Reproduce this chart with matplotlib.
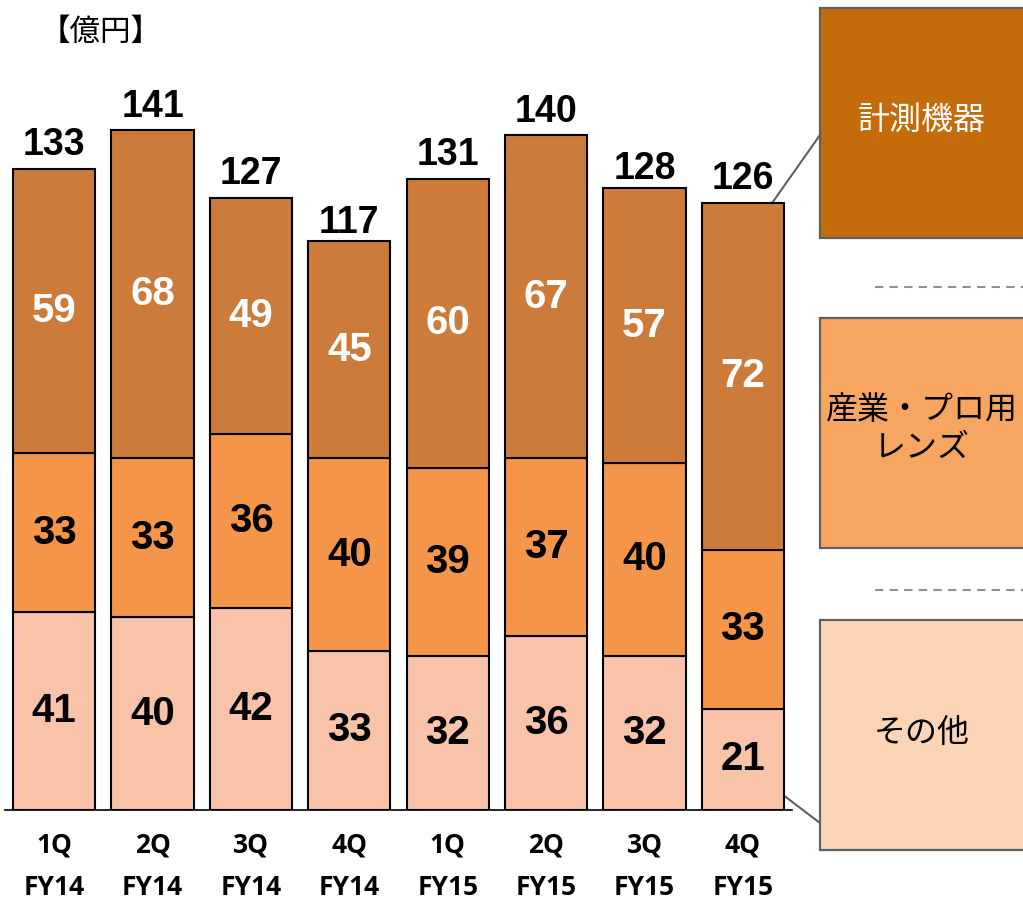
import matplotlib
matplotlib.use("Agg")
from matplotlib import pyplot as plt
from matplotlib.patches import Rectangle, ConnectionPatch

plt.rcParams["font.family"] = ["Noto Sans CJK JP", "DejaVu Sans"]

quarters = ["1Q", "2Q", "3Q", "4Q", "1Q", "2Q", "3Q", "4Q"]
years = ["FY14", "FY14", "FY14", "FY14", "FY15", "FY15", "FY15", "FY15"]
other = [41, 40, 42, 33, 32, 36, 32, 21]
lens = [33, 33, 36, 40, 39, 37, 40, 33]
measure = [59, 68, 49, 45, 60, 67, 57, 72]
totals = [133, 141, 127, 117, 131, 140, 128, 126]

seg_colors = ["#F8C3A9", "#F4954A", "#CD7B3A"]
box_colors = ["#FBD5B5", "#F7A662", "#C46C0C"]
seg_text = ["black", "black", "white"]

W, H = 1023, 901
fig = plt.figure(figsize=(W / 100, H / 100), dpi=100)

# overlay in pixel coordinates for the legend boxes
ov = fig.add_axes([0, 0, 1, 1], zorder=0)
ov.set_xlim(0, W)
ov.set_ylim(H, 0)
ov.axis("off")

ax = fig.add_axes([5 / W, (H - 810) / H, 787 / W, 160 * 4.82 / H], zorder=1)
ax.patch.set_visible(False)

x = list(range(len(quarters)))
width = 0.835
bottom = [0] * len(x)
for vals, col, tcol in zip([other, lens, measure], seg_colors, seg_text):
    ax.bar(x, vals, width, bottom=bottom, color=col, edgecolor="black", linewidth=1.5)
    for i, v in enumerate(vals):
        ax.text(x[i], bottom[i] + v / 2, str(v), ha="center", va="center",
                fontsize=29, fontweight="bold", family="Liberation Sans", color=tcol)
    bottom = [b + v for b, v in zip(bottom, vals)]

for i, t in enumerate(totals):
    ax.annotate(str(t), (x[i], t), xytext=(0, 4), textcoords="offset points",
                ha="center", va="bottom", fontsize=27, fontweight="bold",
                family="Liberation Sans")

ax.set_xlim(-0.5, 7.5)
ax.set_ylim(0, 160)
for s in ["top", "right", "left"]:
    ax.spines[s].set_visible(False)
ax.spines["bottom"].set_linewidth(1.2)
ax.set_xticks([])
ax.set_yticks([])

for i in x:
    ax.text(x[i], -0.046, quarters[i], transform=ax.get_xaxis_transform(),
            ha="center", va="center", fontsize=19, fontweight="bold", family="Open Sans")
    ax.text(x[i], -0.101, years[i], transform=ax.get_xaxis_transform(),
            ha="center", va="center", fontsize=19, fontweight="bold", family="Open Sans")

ov.text(40, 32, "【億円】", ha="left", va="center", fontsize=22)

# legend boxes
box_tops = [620, 318, 8]
labels = ["その他", "産業・プロ用\nレンズ", "計測機器"]
label_cols = ["black", "black", "white"]
label_y = [733, 429, 120]
for top, col, lab, lc, ly in zip(box_tops, box_colors, labels, label_cols, label_y):
    ov.add_patch(Rectangle((820, top), 260, 230, facecolor=col, edgecolor="#606060", linewidth=1.6))
    ov.text(922, ly, lab, ha="center", va="center", fontsize=23, color=lc, linespacing=1.25)

for yy in [287, 590]:
    ov.plot([875, W], [yy, yy], color="#909090", linestyle=(0, (4, 3)), linewidth=1.5)

con1 = ConnectionPatch(xyA=(x[-1] + 0.3, totals[-1]), coordsA=ax.transData,
                       xyB=(820, 135), coordsB=ov.transData, color="#606060", linewidth=1.5)
con2 = ConnectionPatch(xyA=(x[-1] + width / 2, 3), coordsA=ax.transData,
                       xyB=(820, 823), coordsB=ov.transData, color="#606060", linewidth=1.5)
fig.add_artist(con1)
fig.add_artist(con2)

fig.savefig("out.png", dpi=100, facecolor="white")
